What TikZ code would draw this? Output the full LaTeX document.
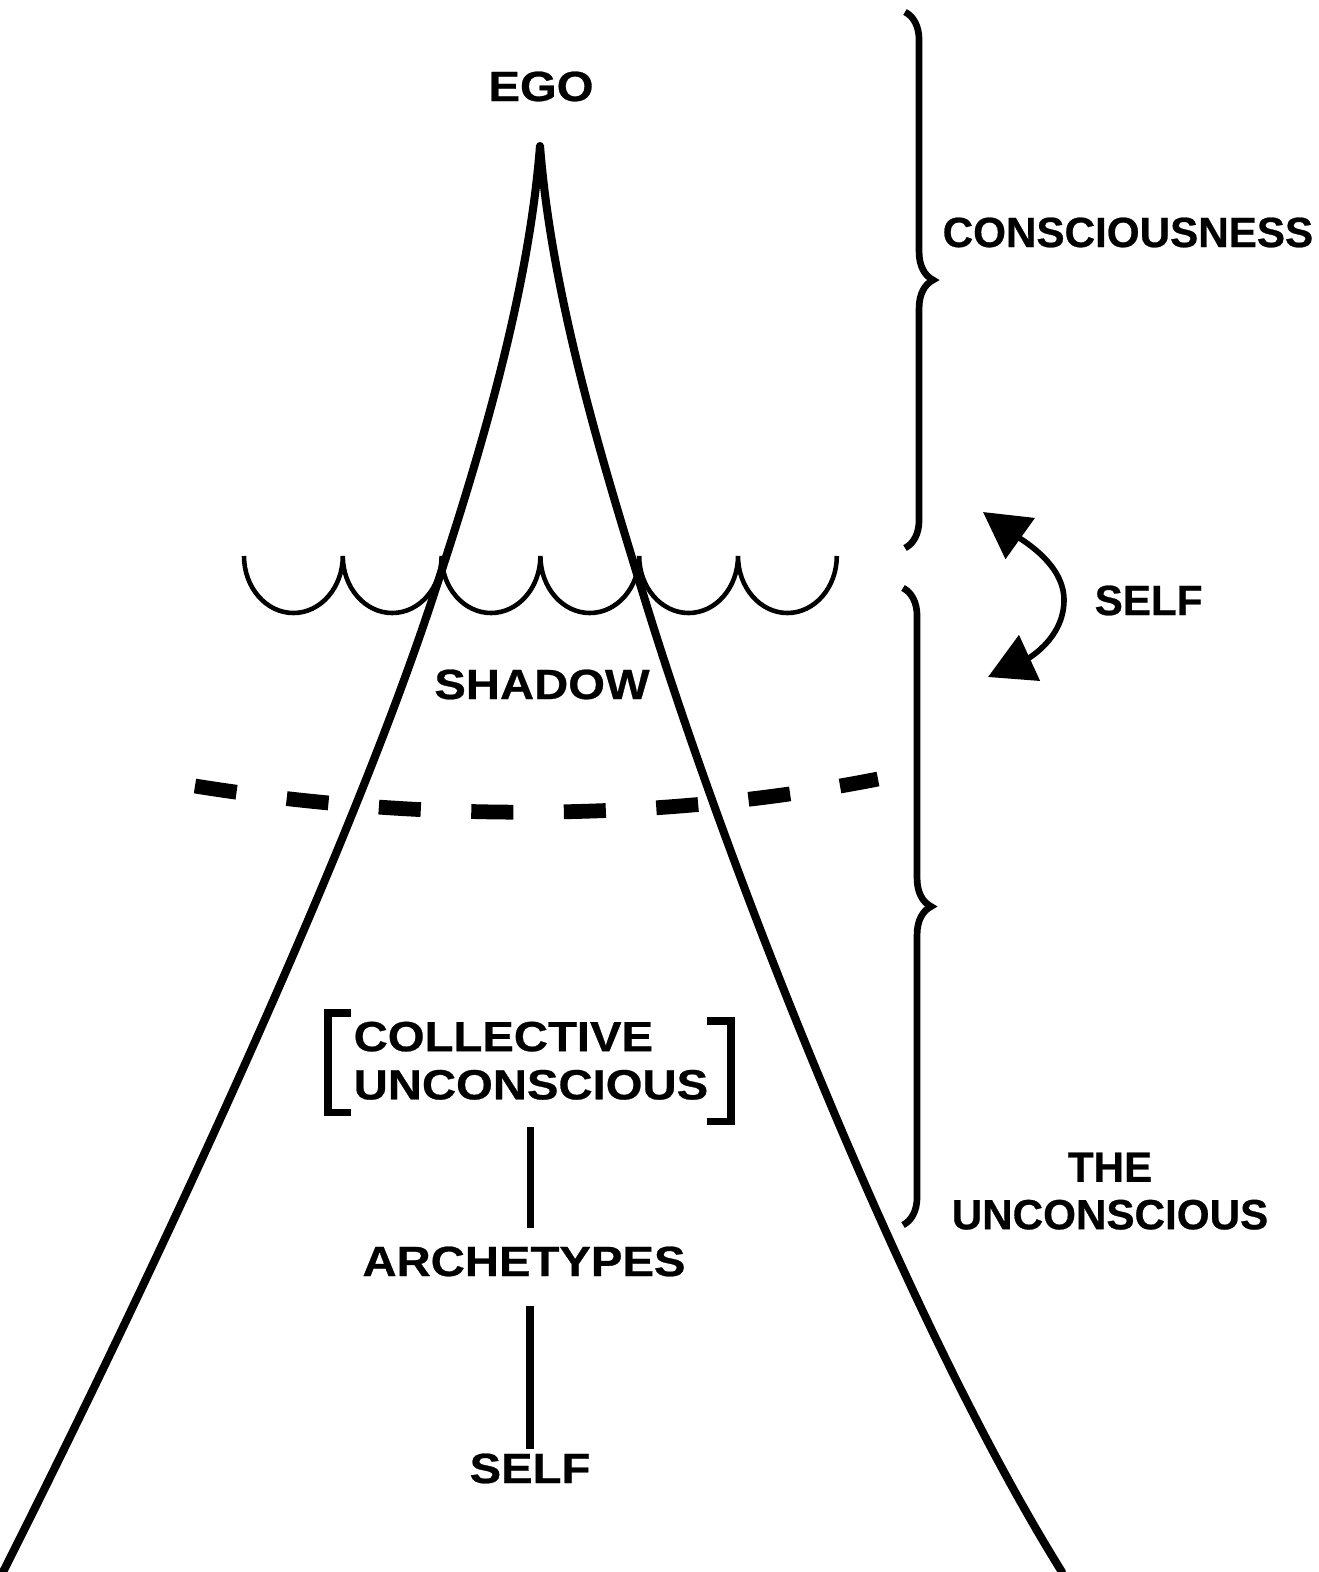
\documentclass[tikz,border=0pt]{standalone}
\usepackage{fontspec}
\setmainfont[BoldFeatures={FakeBold=0.6}]{Liberation Sans}
\newfontfamily\widesans[FakeStretch=1.12, BoldFeatures={FakeBold=0.6}]{Liberation Sans}
\usetikzlibrary{arrows.meta,decorations.pathreplacing}

\begin{document}
\begin{tikzpicture}[x=0.01cm, y=-0.01cm,
    lbl/.style={font=\bfseries\fontsize{12}{13.5}\selectfont, inner sep=0pt},
    inlbl/.style={font=\widesans\bfseries\fontsize{12}{13.7}\selectfont, inner sep=0pt},
    hill/.style={line width=2.3pt, line cap=round, line join=round},
    wave/.style={line width=1.3pt},
    dashline/.style={line width=4.2pt, dash pattern=on 0.42cm off 0.505cm},
    stem/.style={line width=2pt},
    bracebar/.style={line width=1.9pt, decorate, decoration={brace, amplitude=8pt}},
    selfarrow/.style={line width=1.6pt, {Triangle[length=13pt,width=14pt]}-{Triangle[length=13pt,width=14pt]}}]
  \useasboundingbox (0,0) rectangle (1319,1572);

  % the mountain
  \draw[hill] (3,1572) .. controls (140,1300) and (343,870) .. (432,600)
    .. controls (475,470) and (528,300) .. (540,146)
    .. controls (552,300) and (605,470) .. (645,600)
    .. controls (728,870) and (905,1320) .. (1062,1572);

  % water line
  \draw[wave] (244,556) \foreach \i in {1,...,6} {arc[start angle=180, end angle=0, x radius=49.4, y radius=57]};

  % shadow border
  \draw[dashline] (195,786) .. controls (420,822) and (660,822) .. (878,779);

  % braces
  \draw[bracebar] (905,12) -- (905,548);
  \draw[bracebar] (903,588) -- (903,1225);
  \draw[selfarrow] (983,512) .. controls (1025,542) and (1064,565) .. (1064,600)
    .. controls (1064,640) and (1025,660) .. (988,677);

  % labels
  \node[inlbl, anchor=base] (ego) at (541,101) {EGO};
  \node[lbl, anchor=base west] (cons) at (942,247) {CONSCIOUSNESS};
  \node[lbl, anchor=base west] (selfr) at (1094,615) {SELF};
  \node[lbl, anchor=north, align=center] (uncons) at (1110,1152) {THE\\UNCONSCIOUS};
  \node[inlbl, anchor=base] (shadow) at (542,699) {SHADOW};
  \node[inlbl, anchor=north west, align=left] (coll) at (353,1021) {COLLECTIVE\\UNCONSCIOUS};
  \node[inlbl, anchor=base] (arch) at (524,1276) {ARCHETYPES};
  \node[inlbl, anchor=base] (selfb) at (530,1483) {SELF};

  % brackets
  \draw[stem] (351,1013) -- (328,1013) -- (328,1112) -- (351,1112);
  \draw[stem] (707,1021) -- (731,1021) -- (731,1121) -- (707,1121);

  \draw[stem, shorten <=0.27cm, shorten >=0.18cm] (coll.south) -- (coll.south |- arch.north);
  \draw[stem, line width=2.3pt, shorten <=0.29cm, shorten >=0.04cm] (arch.south -| selfb.north) -- (selfb.north);
\end{tikzpicture}
\end{document}
